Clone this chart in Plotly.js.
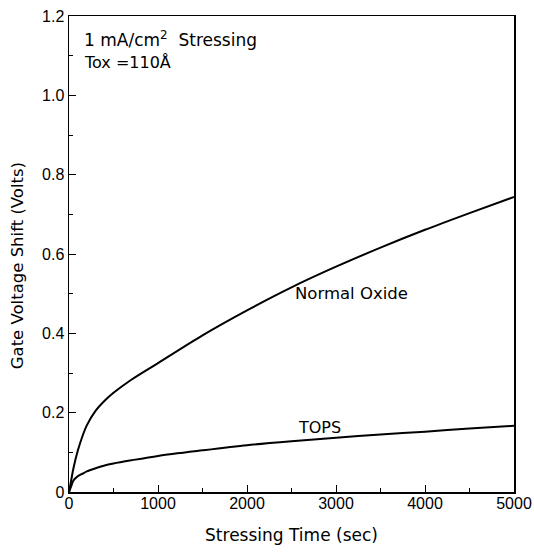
<!DOCTYPE html>
<html>
<head>
<meta charset="utf-8">
<script src="https://cdn.plot.ly/plotly-3.0.1.min.js"></script>
<style>html,body{margin:0;padding:0;background:#fff;}#chart{width:534px;height:552px;}</style>
</head>
<body>
<div id="chart"></div>
<script>
const stressTime = [0, 25, 50, 100, 150, 200, 300, 400, 500, 700, 1000, 1500, 2000, 2500, 3000, 3500, 4000, 4500, 5000];
const normalOxide = [0, 0.03, 0.06, 0.105, 0.14, 0.168, 0.205, 0.23, 0.25, 0.283, 0.325, 0.395, 0.458, 0.516, 0.568, 0.616, 0.661, 0.703, 0.744];
const tops = [0, 0.015, 0.029, 0.04, 0.046, 0.052, 0.06, 0.067, 0.072, 0.08, 0.091, 0.105, 0.118, 0.128, 0.137, 0.145, 0.152, 0.16, 0.167];
const yTickVals = [0, 0.2, 0.4, 0.6, 0.8, 1.0, 1.2];
const yTickText = ["0", "0.2", "0.4", "0.6", "0.8", "1.0", "1.2"];
const xTickVals = [0, 1000, 2000, 3000, 4000, 5000];
const xTickText = ["0", "1000", "2000", "3000", "4000", "5000"];

const F = "DejaVu Sans, Liberation Sans, sans-serif";
const FT = "Liberation Sans, sans-serif";
const lineStyle = {color: "#000", width: 2, shape: "spline", smoothing: 0.8};

const traces = [
  {x: stressTime, y: normalOxide, mode: "lines", line: lineStyle, name: "Normal Oxide", hoverinfo: "skip"},
  {x: stressTime, y: tops, mode: "lines", line: lineStyle, name: "TOPS", hoverinfo: "skip"}
];

const layout = {
  width: 534, height: 552,
  margin: {l: 69, r: 20, t: 16, b: 60, pad: 0},
  paper_bgcolor: "#fff", plot_bgcolor: "#fff",
  showlegend: false,
  font: {family: F, size: 15, color: "#000"},
  xaxis: {
    range: [0, 5000], showgrid: false, zeroline: false,
    showline: true, linecolor: "#000", linewidth: 1.5, mirror: true,
    ticks: "inside", ticklen: 7, tickwidth: 1, tickcolor: "#000",
    tickvals: xTickVals, ticktext: xTickText,
    ticklabeloverflow: "allow", ticklabelstandoff: -4,
    minor: {dtick: 500, tick0: 0, ticks: "inside", ticklen: 4, tickcolor: "#000", tickwidth: 1},
    tickfont: {family: FT, size: 16},
    title: {text: "Stressing Time (sec)", font: {family: F, size: 17}, standoff: 18}
  },
  yaxis: {
    range: [0, 1.2], showgrid: false, zeroline: false,
    showline: true, linecolor: "#000", linewidth: 1.5, mirror: true,
    ticks: "inside", ticklen: 7, tickwidth: 1, tickcolor: "#000",
    tickvals: yTickVals, ticktext: yTickText,
    ticklabeloverflow: "allow",
    minor: {dtick: 0.1, tick0: 0, ticks: "inside", ticklen: 4, tickcolor: "#000", tickwidth: 1},
    tickfont: {family: FT, size: 16}
  },
  annotations: [
    {x: -0.115, y: 0.476, xref: "paper", yref: "paper", xanchor: "center", yanchor: "middle", textangle: -90, text: "Gate Voltage Shift (Volts)", showarrow: false, font: {family: F, size: 16.5}},
    {x: 3177, y: 0.5, xref: "x", yref: "y", text: "Normal Oxide", showarrow: false, font: {family: F, size: 16.5}},
    {x: 2809, y: 0.163, xref: "x", yref: "y", text: "TOPS", showarrow: false, font: {family: F, size: 16}},
    {x: 0.03, y: 0.952, xref: "paper", yref: "paper", xanchor: "left", yanchor: "middle", text: "1 mA/cm<sup>2</sup>  Stressing", showarrow: false, font: {family: F, size: 17}},
    {x: 0.03, y: 0.902, xref: "paper", yref: "paper", xanchor: "left", yanchor: "middle", text: "Tox =110Å", showarrow: false, font: {family: F, size: 16}}
  ]
};

Plotly.newPlot("chart", traces, layout, {displayModeBar: false, staticPlot: true});
</script>
</body>
</html>
